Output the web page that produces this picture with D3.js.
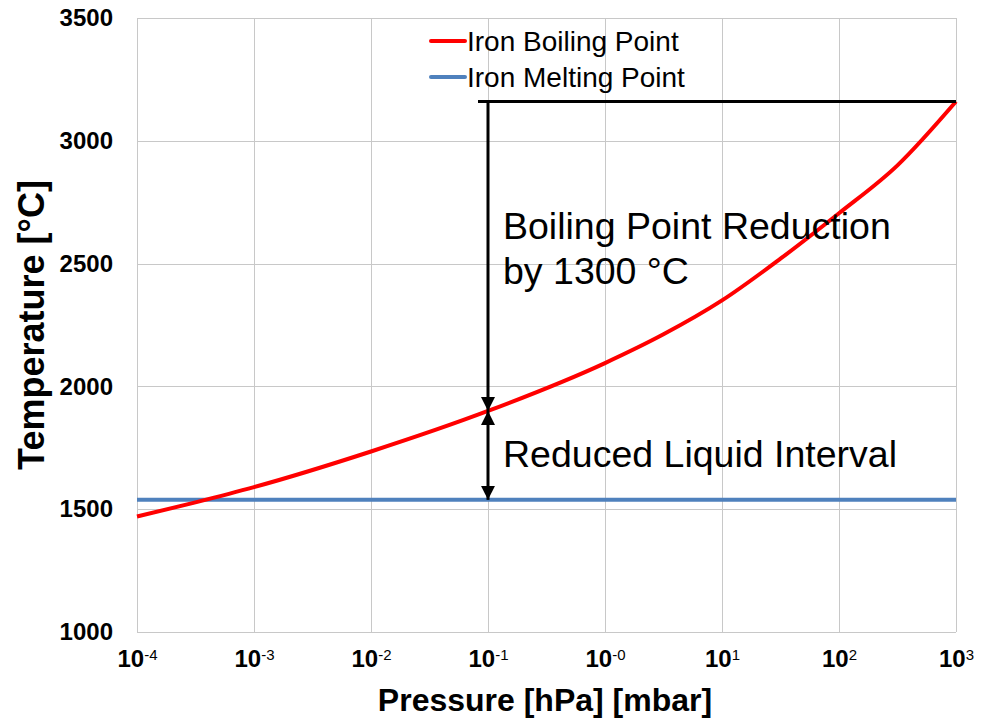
<!DOCTYPE html>
<html>
<head>
<meta charset="utf-8">
<script src="https://cdn.jsdelivr.net/npm/d3@7"></script>
<style>
  body { margin: 0; background: #fff; }
  text { font-family: "Liberation Sans", Arial, sans-serif; }
</style>
</head>
<body>
<div id="chart"></div>
<script>
var width = 984, height = 721;
var margin = {top: 18, right: 28, bottom: 89, left: 137};

// boiling point curve (pressure in hPa, temperature in °C)
var boilPressure = [1e-4, 3.16e-4, 1e-3, 1e-2, 1e-1, 1, 3.16, 10, 31.6, 100, 316, 1000];
var boilTemp = [1470, 1528, 1590, 1735, 1900, 2095, 2212, 2350, 2520, 2705, 2900, 3160];
// melting point (constant)
var meltPressure = [1e-4, 1000];
var meltTemp = [1538, 1538];

var yTicks = [1000, 1500, 2000, 2500, 3000, 3500];
var xTicks = [1e-4, 1e-3, 1e-2, 1e-1, 1, 10, 100, 1000];
var xTickExp = ["-4", "-3", "-2", "-1", "-0", "1", "2", "3"];

// annotation: reference pressure and temperatures
var annPressure = 0.1;
var annTop = 3160, annBoil = 1900, annMelt = 1538;

var svg = d3.select("#chart")
    .append("svg")
    .attr("width", width)
    .attr("height", height);

var x = d3.scaleLog()
    .domain([1e-4, 1000])
    .range([margin.left, width - margin.right]);

var y = d3.scaleLinear()
    .domain([1000, 3500])
    .range([height - margin.bottom, margin.top]);

// grid
var grid = svg.append("g").attr("stroke", "#c8c8c8").attr("stroke-width", 1);
grid.selectAll(".gx").data(xTicks).enter().append("line")
    .attr("x1", function (d) { return Math.round(x(d)) + 0.5; })
    .attr("x2", function (d) { return Math.round(x(d)) + 0.5; })
    .attr("y1", y(3500)).attr("y2", y(1000));
grid.selectAll(".gy").data(yTicks).enter().append("line")
    .attr("y1", function (d) { return Math.round(y(d)) + 0.5; })
    .attr("y2", function (d) { return Math.round(y(d)) + 0.5; })
    .attr("x1", x(1e-4)).attr("x2", x(1000));

// y axis
var yAxis = svg.append("g")
    .attr("transform", "translate(" + margin.left + ",0)")
    .call(d3.axisLeft(y).tickValues(yTicks).tickSize(0).tickPadding(24).tickFormat(d3.format("d")));
yAxis.select(".domain").remove();
yAxis.selectAll("text")
    .style("font-size", "24px")
    .style("font-weight", "bold")
    .style("font-family", "Liberation Sans, Arial, sans-serif")
    .attr("fill", "#000");

// x axis with superscript labels
var xAxis = svg.append("g")
    .attr("transform", "translate(0," + (height - margin.bottom) + ")")
    .call(d3.axisBottom(x).tickValues(xTicks).tickSize(0).tickPadding(18).tickFormat(function () { return ""; }));
xAxis.select(".domain").remove();
xAxis.selectAll(".tick text").each(function (d, i) {
    var t = d3.select(this)
        .attr("fill", "#000")
        .style("font-size", "24px")
        .style("font-weight", "bold")
        .style("font-family", "Liberation Sans, Arial, sans-serif")
        .attr("dy", "0.71em")
        .text(null);
    t.append("tspan").text("10");
    t.append("tspan")
        .attr("dy", "-0.45em")
        .style("font-size", "15px")
        .style("font-weight", "normal")
        .text(xTickExp[i]);
});

// axis titles
svg.append("text")
    .attr("x", 545)
    .attr("y", 711)
    .attr("text-anchor", "middle")
    .style("font-size", "32px")
    .style("font-weight", "bold")
    .text("Pressure [hPa] [mbar]");

svg.append("text")
    .attr("transform", "translate(44," + 325 + ") rotate(-90)")
    .attr("text-anchor", "middle")
    .style("font-size", "36px")
    .style("font-weight", "bold")
    .text("Temperature [°C]");

// series lines
var line = d3.line()
    .x(function (d) { return x(d[0]); })
    .y(function (d) { return y(d[1]); })
    .curve(d3.curveMonotoneX);

svg.append("path")
    .datum(d3.zip(meltPressure, meltTemp))
    .attr("fill", "none")
    .attr("stroke", "#4F81BD")
    .attr("stroke-width", 4)
    .attr("d", line);

svg.append("path")
    .datum(d3.zip(boilPressure, boilTemp))
    .attr("fill", "none")
    .attr("stroke", "#FF0000")
    .attr("stroke-width", 4)
    .attr("d", line);

// annotation arrows
var defs = svg.append("defs");
defs.append("marker")
    .attr("id", "arrowhead")
    .attr("viewBox", "0 -5 10 10")
    .attr("refX", 10)
    .attr("refY", 0)
    .attr("markerUnits", "userSpaceOnUse")
    .attr("markerWidth", 14)
    .attr("markerHeight", 14)
    .attr("orient", "auto-start-reverse")
    .append("path")
    .attr("d", "M0,-5L10,0L0,5Z")
    .attr("fill", "#000");

var ax = x(annPressure);
svg.append("line")
    .attr("x1", ax - 10).attr("x2", x(1000))
    .attr("y1", y(annTop)).attr("y2", y(annTop))
    .attr("stroke", "#000").attr("stroke-width", 3);

svg.append("line")
    .attr("x1", ax).attr("x2", ax)
    .attr("y1", y(annTop)).attr("y2", y(annBoil))
    .attr("stroke", "#000").attr("stroke-width", 3)
    .attr("marker-end", "url(#arrowhead)");

svg.append("line")
    .attr("x1", ax).attr("x2", ax)
    .attr("y1", y(annBoil)).attr("y2", y(annMelt))
    .attr("stroke", "#000").attr("stroke-width", 3)
    .attr("marker-start", "url(#arrowhead)")
    .attr("marker-end", "url(#arrowhead)");

// annotation text
svg.append("text")
    .attr("x", 503).attr("y", 239)
    .style("font-size", "37.5px")
    .text("Boiling Point Reduction");
svg.append("text")
    .attr("x", 503).attr("y", 284)
    .style("font-size", "37.5px")
    .text("by 1300 °C");
svg.append("text")
    .attr("x", 503).attr("y", 467)
    .style("font-size", "37.5px")
    .text("Reduced Liquid Interval");

// legend
var legendItems = [
    {name: "Iron Boiling Point", color: "#FF0000", y: 41},
    {name: "Iron Melting Point", color: "#4F81BD", y: 77}
];
var legend = svg.append("g");
legend.selectAll("line").data(legendItems).enter().append("line")
    .attr("x1", 431).attr("x2", 465)
    .attr("y1", function (d) { return d.y; })
    .attr("y2", function (d) { return d.y; })
    .attr("stroke", function (d) { return d.color; })
    .attr("stroke-width", 4)
    .attr("stroke-linecap", "round");
legend.selectAll("text").data(legendItems).enter().append("text")
    .attr("x", 467)
    .attr("y", function (d) { return d.y + 10; })
    .style("font-size", "28px")
    .text(function (d) { return d.name; });
</script>
</body>
</html>
